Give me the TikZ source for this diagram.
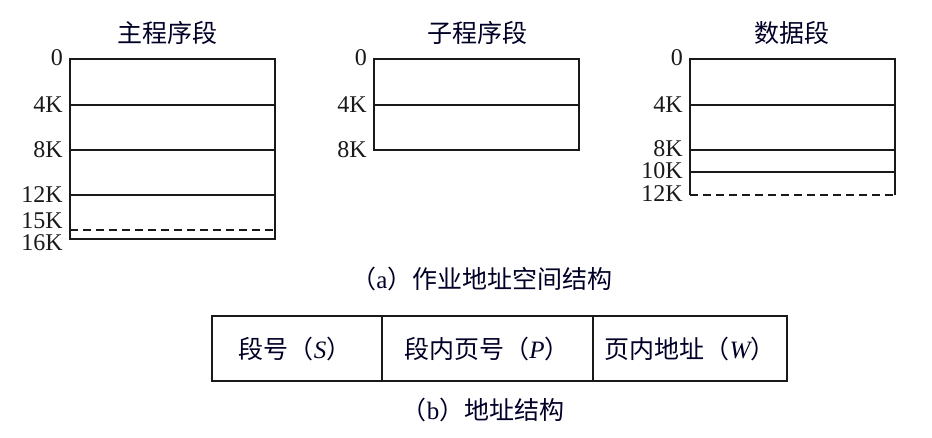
\documentclass[tikz,border=0pt]{standalone}
\usepackage{fontspec}
\setmainfont{Liberation Serif}
\newfontfamily\cjk{Noto Sans CJK SC}
\begin{document}
\begin{tikzpicture}[x=1pt,y=-1pt,
  seg/.style={line width=1.4pt,draw=black!90},
  dash line/.style={line width=1.4pt,draw=black!90,dash pattern=on 8pt off 5pt},
  addr/.style={font=\fontsize{24}{24}\selectfont, inner sep=0pt, anchor=east, text=black!90},
  title/.style={font=\cjk\fontsize{25}{25}\selectfont, inner sep=0pt, text=black!85!blue},
  captext/.style={font=\cjk\fontsize{25}{25}\selectfont, inner sep=0pt, text=black!85!blue},
  cell/.style={font=\cjk\fontsize{25}{25}\selectfont, inner sep=0pt, text=black!85!blue}]
\useasboundingbox (0,0) rectangle (932,438);
% ---------- main program segment ----------
\node[title] (t1) at (167,33) {主程序段};
\coordinate (m1) at (70,59);
\coordinate (m2) at (275,239);
\draw[seg] (m1) rectangle (m2);
\coordinate (m4a) at (70,105); \coordinate (m4b) at (275,105);
\coordinate (m8a) at (70,150); \coordinate (m8b) at (275,150);
\coordinate (m12a) at (70,195); \coordinate (m12b) at (275,195);
\coordinate (m15a) at (70,230); \coordinate (m15b) at (275,230);
\draw[seg] (m4a) -- (m4b);
\draw[seg] (m8a) -- (m8b);
\draw[seg] (m12a) -- (m12b);
\draw[dash line] (m15a) -- (m15b);
\node[addr] (ml0) at (63,58) {0};
\node[addr] (ml4) at (63,105) {4K};
\node[addr] (ml8) at (63,150) {8K};
\node[addr] (ml12) at (63,195) {12K};
\node[addr] (ml15) at (63,221) {15K};
\node[addr] (ml16) at (63,243) {16K};
% ---------- sub program segment ----------
\node[title] (t2) at (477,33) {子程序段};
\coordinate (s1) at (374,59);
\coordinate (s2) at (579,150);
\draw[seg] (s1) rectangle (s2);
\coordinate (s4a) at (374,105); \coordinate (s4b) at (579,105);
\draw[seg] (s4a) -- (s4b);
\node[addr] (sl0) at (367,58) {0};
\node[addr] (sl4) at (367,105) {4K};
\node[addr] (sl8) at (367,150) {8K};
% ---------- data segment ----------
\node[title] (t3) at (792,33) {数据段};
\coordinate (d1) at (690,59);
\coordinate (d1r) at (895,59);
\coordinate (d2l) at (690,195);
\coordinate (d2) at (895,195);
\draw[seg] (d2l) -- (d1) -- (d1r) -- (d2);
\draw[dash line] (d2l) -- (d2);
\coordinate (d4a) at (690,105); \coordinate (d4b) at (895,105);
\coordinate (d8a) at (690,150); \coordinate (d8b) at (895,150);
\coordinate (d10a) at (690,172); \coordinate (d10b) at (895,172);
\draw[seg] (d4a) -- (d4b);
\draw[seg] (d8a) -- (d8b);
\draw[seg] (d10a) -- (d10b);
\node[addr] (dl0) at (683,58) {0};
\node[addr] (dl4) at (683,105) {4K};
\node[addr] (dl8) at (683,149) {8K};
\node[addr] (dl10) at (683,171) {10K};
\node[addr] (dl12) at (683,194) {12K};
% ---------- caption a ----------
\node[captext] (capa) at (482,279) {（{\rmfamily a}）作业地址空间结构};
% ---------- address structure ----------
\coordinate (a1) at (212,316);
\coordinate (a2) at (787,381);
\draw[seg] (a1) rectangle (a2);
\coordinate (v1a) at (382,316); \coordinate (v1b) at (382,381);
\coordinate (v2a) at (593,316); \coordinate (v2b) at (593,381);
\draw[seg] (v1a) -- (v1b);
\draw[seg] (v2a) -- (v2b);
\node[cell] (c1) at (295,349) {段号（{\rmfamily\itshape S}）};
\node[cell] (c2) at (487,349) {段内页号（{\rmfamily\itshape P}）};
\node[cell] (c3) at (690,349) {页内地址（{\rmfamily\itshape W}）};
% ---------- caption b ----------
\node[captext] (capb) at (483,410) {（{\rmfamily b}）地址结构};
\end{tikzpicture}
\end{document}
